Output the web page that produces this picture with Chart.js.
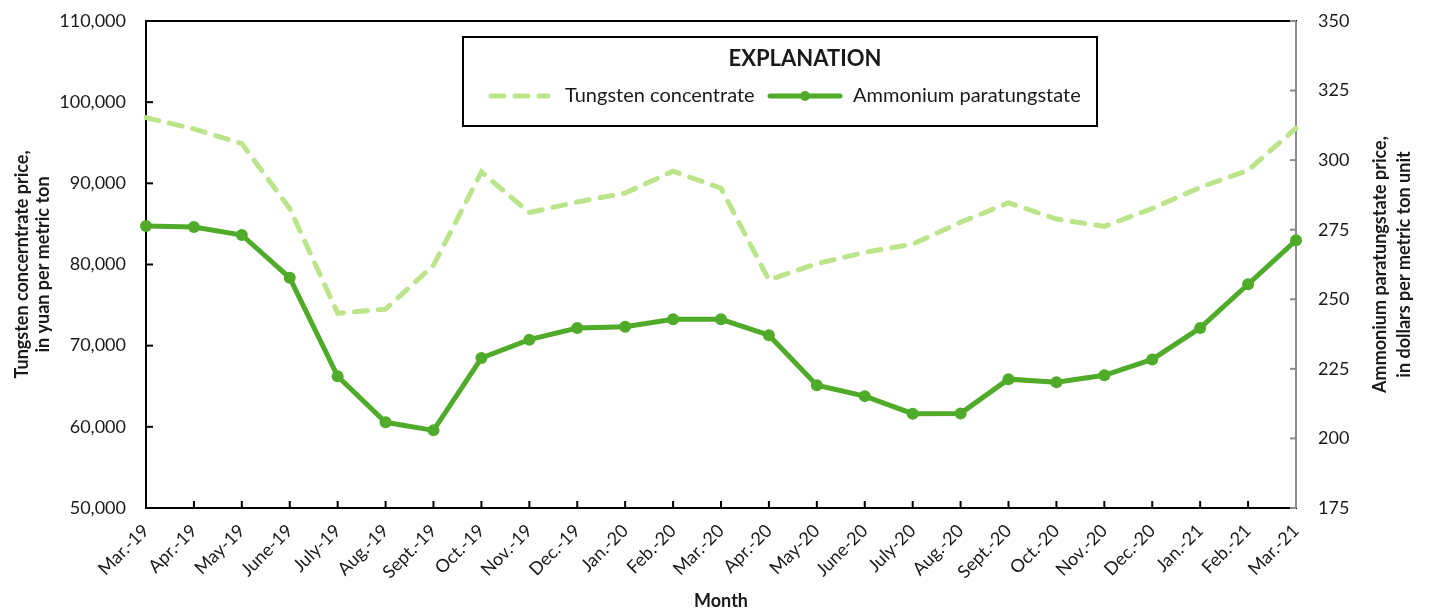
<!DOCTYPE html>
<html>
<head>
<meta charset="utf-8">
<script src="https://cdn.jsdelivr.net/npm/chart.js@4.4.1/dist/chart.umd.min.js"></script>
<style>
  html, body { margin: 0; padding: 0; background: #fff; }
</style>
</head>
<body>
<canvas id="chart" width="1429" height="612"></canvas>
<script>

// months on the x axis
const months = [
  'Mar.-19', 'Apr.-19', 'May-19', 'June-19', 'July-19', 'Aug.-19', 'Sept.-19', 'Oct.-19', 'Nov.-19',
  'Dec.-19', 'Jan.-20', 'Feb.-20', 'Mar.-20', 'Apr.-20', 'May-20', 'June-20', 'July-20', 'Aug.-20',
  'Sept.-20', 'Oct.-20', 'Nov.-20', 'Dec.-20', 'Jan.-21', 'Feb.-21', 'Mar.-21'
]

// yuan per metric ton (left axis)
const tungstenConcentrate = [
  98100, 96700, 94900, 86900, 74000, 74500, 79900, 91400, 86400,
  87700, 88800, 91500, 89400, 78100, 80100, 81500, 82500, 85200,
  87600, 85600, 84700, 86900, 89500, 91600, 96800
]

// dollars per metric ton unit (right axis)
const ammoniumParatungstate = [
  276.3, 276.0, 273.1, 257.7, 222.3, 205.8, 202.9, 228.9, 235.5,
  239.7, 240.1, 242.8, 242.8, 237.1, 219.1, 215.2, 208.9, 209.0,
  221.3, 220.2, 222.7, 228.4, 239.7, 255.4, 271.2
]

const leftTitle  = ['Tungsten concerntrate price,', 'in yuan per metric ton']
const rightTitle = ['Ammonium paratungstate price,', 'in dollars per metric ton unit']

const FONT      = 'Lato, "Open Sans", sans-serif'
const TEXT      = '#1a1a1a'
const LIGHT     = '#bce48a'
const DARK      = '#4fab29'


// plot frame + inward tick marks
const framePlugin = {
      id: 'frame',
      beforeDatasetsDraw(chart){
            const { ctx, chartArea: a, scales } = chart
            const seg = (x1, y1, x2, y2) => { ctx.beginPath(); ctx.moveTo(x1, y1); ctx.lineTo(x2, y2); ctx.stroke() }

            ctx.save()
            ctx.lineCap = 'square'
            ctx.lineWidth = 2
            ctx.strokeStyle = '#000'
            seg(a.right, a.top, a.left, a.top)
            seg(a.left, a.top, a.left, a.bottom)
            seg(a.left, a.bottom, a.right, a.bottom)

            scales.y.ticks.forEach((t, i) => { const y = scales.y.getPixelForTick(i); seg(a.left, y, a.left + 6, y) })
            scales.x.ticks.forEach((t, i) => { const x = scales.x.getPixelForTick(i); seg(x, a.bottom, x, a.bottom - 6) })

            ctx.strokeStyle = '#8c8c8c'
            ctx.lineCap = 'butt'
            seg(a.right, a.top, a.right, a.bottom)
            scales.y1.ticks.forEach((t, i) => { const y = scales.y1.getPixelForTick(i); seg(a.right, y, a.right - 6, y) })
            ctx.restore()
      }
}


// right axis title reads bottom-to-top like the left one
const rightTitlePlugin = {
      id: 'rightTitle',
      afterDraw(chart){
            const { ctx, chartArea: a } = chart
            ctx.save()
            ctx.translate(1392, (a.top + a.bottom) / 2)
            ctx.rotate(-Math.PI / 2)
            ctx.fillStyle = TEXT
            ctx.font = 'bold 18px ' + FONT
            ctx.textAlign = 'center'
            ctx.textBaseline = 'middle'
            ctx.fillText(rightTitle[0], 0, -12)
            ctx.fillText(rightTitle[1], 0, 12)
            ctx.restore()
      }
}


// the boxed "EXPLANATION" legend
const explanationPlugin = {
      id: 'explanation',
      afterDraw(chart){
            const ctx = chart.ctx
            const ds  = chart.data.datasets
            const box = { x: 463, y: 37, w: 634, h: 89 }

            ctx.save()
            ctx.fillStyle = '#fff'
            ctx.fillRect(box.x, box.y, box.w, box.h)
            ctx.lineWidth = 2
            ctx.strokeStyle = '#000'
            ctx.strokeRect(box.x, box.y, box.w, box.h)

            ctx.fillStyle = TEXT
            ctx.textBaseline = 'middle'
            ctx.textAlign = 'center'
            ctx.font = 'bold 22px ' + FONT
            ctx.fillText('EXPLANATION', 805, 59)

            ctx.textAlign = 'left'
            ctx.font = '20px ' + FONT
            const yRow = 96

            // dashed sample
            ctx.strokeStyle = ds[0].borderColor
            ctx.lineWidth = ds[0].borderWidth
            ctx.lineCap = 'round'
            ctx.setLineDash(ds[0].borderDash)
            ctx.beginPath(); ctx.moveTo(491, yRow); ctx.lineTo(548, yRow); ctx.stroke()
            ctx.setLineDash([])
            ctx.fillText(ds[0].label, 565, yRow)

            // solid sample with marker
            ctx.strokeStyle = ds[1].borderColor
            ctx.lineWidth = ds[1].borderWidth
            ctx.beginPath(); ctx.moveTo(770, yRow); ctx.lineTo(840, yRow); ctx.stroke()
            ctx.fillStyle = ds[1].pointBackgroundColor
            ctx.beginPath(); ctx.arc(805, yRow, 5, 0, Math.PI * 2); ctx.fill()
            ctx.fillStyle = TEXT
            ctx.fillText(ds[1].label, 853, yRow)
            ctx.restore()
      }
}


// fixed axis box sizes so the plot area lines up with the reference
function fitVertical(width){
      return (s) => { s.width = width; s.paddingTop = 0; s.paddingBottom = 0 }
}


const setup = {
      type: 'line',
      data: {
            labels: months,
            datasets: [
                  {
                        label: 'Tungsten concentrate',
                        data: tungstenConcentrate,
                        yAxisID: 'y',
                        borderColor: LIGHT,
                        borderWidth: 5,
                        borderDash: [13, 11],
                        borderCapStyle: 'round',
                        pointRadius: 0,
                        tension: 0,
                  },
                  {
                        label: 'Ammonium paratungstate',
                        data: ammoniumParatungstate,
                        yAxisID: 'y1',
                        borderColor: DARK,
                        borderWidth: 5,
                        pointRadius: 6,
                        pointBackgroundColor: DARK,
                        pointBorderColor: DARK,
                        pointBorderWidth: 0,
                        tension: 0,
                  }
            ]
      },
      options: {
            responsive: false,
            animation: false,
            layout: { padding: { top: 21, left: 0, right: 0, bottom: 0 } },
            plugins: {
                  legend:  { display: false },
                  tooltip: { enabled: false },
            },
            scales: {
                  x: {
                        offset: false,
                        grid:   { display: false },
                        border: { display: false },
                        ticks: {
                              autoSkip: false, minRotation: 45, maxRotation: 45, padding: 4,
                              color: TEXT, font: { family: FONT, size: 18 }
                        },
                        title: {
                              display: true, text: 'Month', color: TEXT,
                              font: { family: FONT, size: 18, weight: 'bold' }, padding: { top: 0, bottom: 0 }
                        },
                        afterFit: (s) => { s.height = 104; s.paddingLeft = 0; s.paddingRight = 0 }
                  },
                  y: {
                        position: 'left',
                        min: 50000, max: 110000,
                        grid:   { display: false },
                        border: { display: false },
                        ticks: {
                              stepSize: 10000, padding: 12, color: TEXT,
                              font: { family: FONT, size: 18 },
                              callback: (v) => v.toLocaleString('en-US')
                        },
                        title: {
                              display: true, text: leftTitle, color: TEXT,
                              font: { family: FONT, size: 18, weight: 'bold' }, padding: { top: 11, bottom: 0 }
                        },
                        afterFit: fitVertical(146)
                  },
                  y1: {
                        position: 'right',
                        min: 175, max: 350,
                        grid:   { display: false },
                        border: { display: false },
                        ticks: {
                              stepSize: 25, padding: 14, color: TEXT,
                              font: { family: FONT, size: 18 }
                        },
                        afterFit: fitVertical(133)
                  }
            }
      },
      plugins: [framePlugin, rightTitlePlugin, explanationPlugin]
}

new Chart(document.getElementById('chart'), setup)

</script>
</body>
</html>
